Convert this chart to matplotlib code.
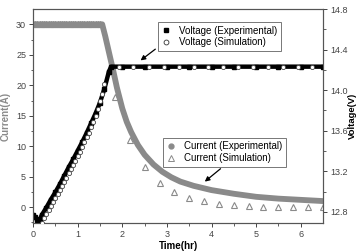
import matplotlib
matplotlib.use("Agg")
from matplotlib import pyplot as plt
from matplotlib.lines import Line2D

plt.rcParams['font.family'] = ['Liberation Sans', 'DejaVu Sans']

# current, experimental (A)
cur_exp_t = [0, 0.5, 1.0, 1.5, 1.55, 1.62, 1.73, 1.8, 1.88, 2.0, 2.1, 2.2, 2.35, 2.5, 2.7,
             2.9, 3.1, 3.3, 3.6, 4.0, 4.5, 5.0, 5.5, 6.0, 6.5]
cur_exp = [30, 30, 30, 30, 30, 28, 24.5, 22.3, 19.6, 16.2, 14.0, 12.3, 10.2, 8.6, 7.0,
           5.8, 4.9, 4.2, 3.5, 2.8, 2.2, 1.7, 1.4, 1.2, 1.0]

# current, simulation (A)
cur_sim_t = [0.0, 0.05, 0.1, 0.15, 0.2, 0.25, 0.3, 0.35, 0.4, 0.45, 0.5, 0.55, 0.6, 0.65,
             0.7, 0.75, 0.8, 0.85, 0.9, 0.95, 1.0, 1.05, 1.1, 1.15, 1.2, 1.25, 1.3, 1.35,
             1.4, 1.45, 1.5,
             1.84, 2.18, 2.52, 2.84, 3.17, 3.5, 3.83, 4.16, 4.5, 4.83, 5.16, 5.5, 5.83, 6.16, 6.5]
cur_sim = [30, 30, 30, 30, 30, 30, 30, 30, 30, 30, 30, 30, 30, 30,
           30, 30, 30, 30, 30, 30, 30, 30, 30, 30, 30, 30, 30, 30,
           30, 30, 30,
           18, 11, 6.6, 3.9, 2.5, 1.5, 1.0, 0.5, 0.3, 0.2, 0.1, 0.1, 0.1, 0.1, 0.0]

# voltage, experimental (V)
volt_exp_t = [0.0, 0.05, 0.1, 0.15, 0.2, 0.3, 0.4, 0.5, 0.6, 0.7, 0.8, 0.9, 1.0, 1.1, 1.2,
              1.3, 1.4, 1.5, 1.6, 1.7, 1.75, 2.0, 2.5, 3.0, 3.5, 4.0, 4.5, 5.0, 5.5, 6.0, 6.5]
volt_exp = [12.771, 12.747, 12.717, 12.723, 12.771, 12.843, 12.921, 12.993, 13.071, 13.156,
            13.240, 13.318, 13.402, 13.486, 13.576, 13.672, 13.769, 13.877, 14.015, 14.183,
            14.232, 14.232, 14.232, 14.232, 14.232, 14.232, 14.232, 14.232, 14.232, 14.232, 14.232]

# voltage, simulation (V)
volt_sim_t = [0.20, 0.25, 0.30, 0.35, 0.40, 0.45, 0.50, 0.55, 0.60, 0.65, 0.70, 0.75, 0.80,
              0.85, 0.90, 0.95, 1.00, 1.05, 1.10, 1.15, 1.20, 1.25, 1.30, 1.35, 1.40, 1.45,
              1.50, 1.55, 1.60,
              1.92, 2.25, 2.59, 2.93, 3.27, 3.60, 3.93, 4.26, 4.60, 4.93, 5.27, 5.60, 5.93, 6.26]
volt_sim = [12.693, 12.735, 12.777, 12.819, 12.861, 12.897, 12.939, 12.975, 13.017, 13.053,
            13.095, 13.137, 13.180, 13.222, 13.264, 13.306, 13.348, 13.390, 13.438, 13.486,
            13.534, 13.582, 13.636, 13.690, 13.750, 13.817, 13.889, 13.960, 14.060,
            14.232, 14.232, 14.232, 14.232, 14.232, 14.232, 14.232, 14.232, 14.232, 14.232,
            14.232, 14.232, 14.232, 14.232]

grey = '#8a8a8a'
tick_col = '#444444'

fig = plt.figure(figsize=(3.59, 2.52), dpi=100)
ax = fig.add_axes([0.092, 0.115, 0.808, 0.849])
ax2 = ax.twinx()

ax.plot(cur_exp_t, cur_exp, color=grey, lw=4.2, solid_capstyle='butt', zorder=2)
ax.plot(cur_sim_t, cur_sim, linestyle='', marker='^', ms=5, mfc='none', mec=grey,
        mew=0.8, zorder=3)

ax2.plot(volt_exp_t, volt_exp, color='black', lw=3.2, marker='s', ms=3, zorder=2)
ax2.plot(volt_sim_t, volt_sim, linestyle='', marker='o', ms=3.0, mfc='white', mec='#444444',
         mew=0.6, zorder=3)

ax.set_xlim(0, 6.5)
ax.set_ylim(-2.6, 32.5)
ax2.set_ylim(12.69, 14.8)
ax.set_xticks([0, 1, 2, 3, 4, 5, 6])
ax.set_yticks([0, 5, 10, 15, 20, 25, 30])
ax2.set_yticks([12.8, 13.2, 13.6, 14.0, 14.4, 14.8])
ax.set_xticks([0.5, 1.5, 2.5, 3.5, 4.5, 5.5], minor=True)
ax.set_yticks([-2.5, 2.5, 7.5, 12.5, 17.5, 22.5, 27.5], minor=True)
ax2.set_yticks([13.0, 13.4, 13.8, 14.2, 14.6], minor=True)

for a in (ax, ax2):
    a.tick_params(which='major', direction='out', length=3, width=0.7, labelsize=6.5,
                  colors=tick_col, pad=2)
    a.tick_params(which='minor', direction='out', length=1.8, width=0.6, colors=tick_col)
    for s in a.spines.values():
        s.set_color('#555555')
        s.set_linewidth(0.8)

ax.set_xlabel('Time(hr)', fontsize=7, fontweight='bold', labelpad=1.5)
ax.set_ylabel('Current(A)', fontsize=7, fontweight='bold', color=grey, labelpad=4)
ax2.set_ylabel('Voltage(V)', fontsize=6.8, fontweight='bold', labelpad=0.5)

h_up = [Line2D([], [], linestyle='', marker='s', ms=3.5, color='black'),
        Line2D([], [], linestyle='', marker='o', ms=3.5, mfc='white', mec='#333333', mew=0.6)]
leg1 = ax2.legend(h_up, ['Voltage (Experimental)', 'Voltage (Simulation)'],
                  loc='upper left', bbox_to_anchor=(0.431, 0.939), borderaxespad=0,
                  fontsize=7, frameon=True, fancybox=False, edgecolor='#555555',
                  handlelength=1.0, handletextpad=0.8, borderpad=0.35, labelspacing=0.2)
leg1.get_frame().set_linewidth(0.7)

h_lo = [Line2D([], [], linestyle='', marker='o', ms=3.5, color=grey),
        Line2D([], [], linestyle='', marker='^', ms=4.5, mfc='white', mec=grey, mew=0.7)]
leg2 = ax.legend(h_lo, ['Current (Experimental)', 'Current (Simulation)'],
                 loc='upper left', bbox_to_anchor=(0.448, 0.397), borderaxespad=0,
                 fontsize=7, frameon=True, fancybox=False, edgecolor='#555555',
                 handlelength=1.0, handletextpad=0.8, borderpad=0.35, labelspacing=0.2)
leg2.get_frame().set_linewidth(0.7)

ax.annotate('', xy=(2.36, 23.8), xytext=(2.79, 26.2),
            arrowprops=dict(arrowstyle='-|>', color='black', lw=0.9, mutation_scale=7))
ax.annotate('', xy=(3.8, 3.9), xytext=(4.25, 6.6),
            arrowprops=dict(arrowstyle='-|>', color='black', lw=0.9, mutation_scale=7))

fig.savefig('out.png', dpi=100)
